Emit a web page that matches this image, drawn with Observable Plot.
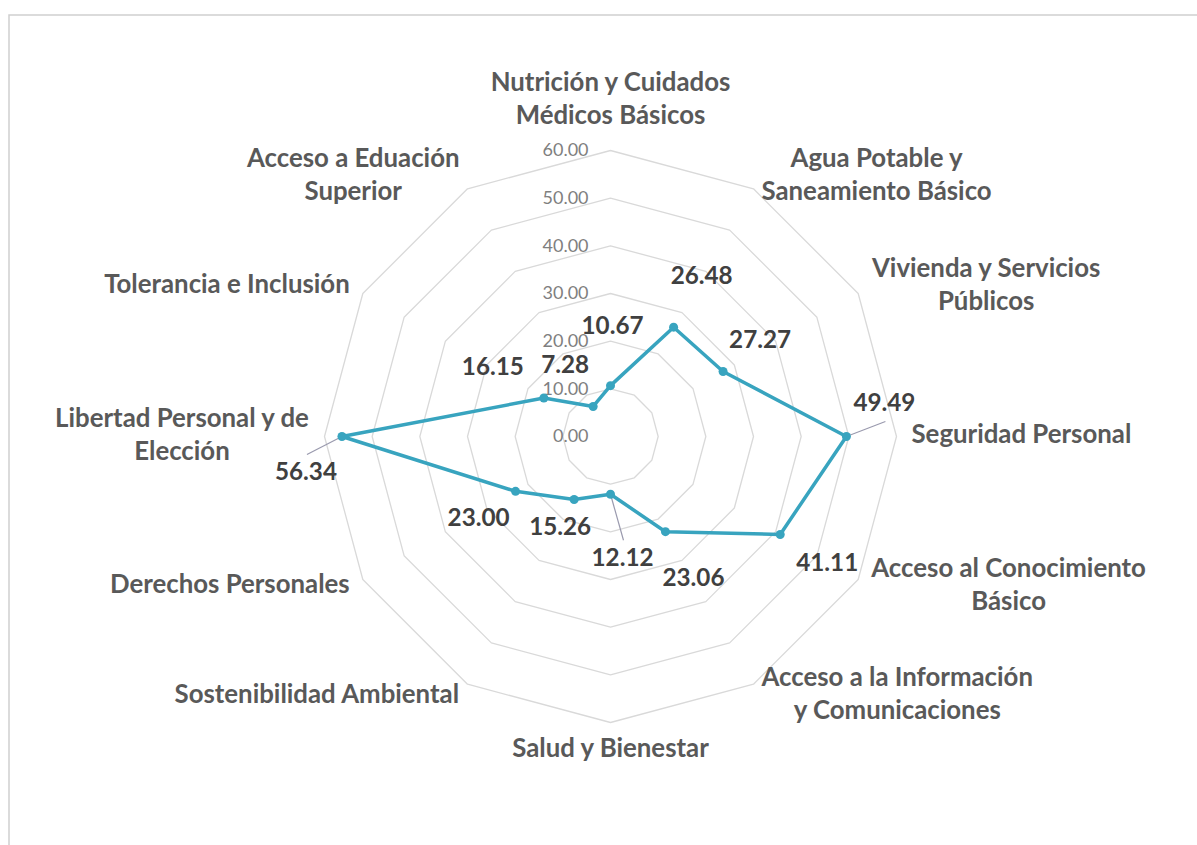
<!DOCTYPE html>
<html><head><meta charset="utf-8">
<script src="https://cdn.jsdelivr.net/npm/d3@7"></script>
<script src="https://cdn.jsdelivr.net/npm/@observablehq/plot@0.6"></script>
<style>
body{margin:0;background:#fff;}
#chart svg{display:block;background:#fff;}
</style>
</head><body><div id="chart"></div>
<script>
// ---- data ----
const categories = [
  "Nutrición y Cuidados\nMédicos Básicos",
  "Agua Potable y\nSaneamiento Básico",
  "Vivienda y Servicios\nPúblicos",
  "Seguridad Personal",
  "Acceso al Conocimiento\nBásico",
  "Acceso a la Información\ny Comunicaciones",
  "Salud y Bienestar",
  "Sostenibilidad Ambiental",
  "Derechos Personales",
  "Libertad Personal y de\nElección",
  "Tolerancia e Inclusión",
  "Acceso a Eduación\nSuperior"
];
const values = [10.67, 26.48, 27.27, 49.49, 41.11, 23.06, 12.12, 15.26, 23.00, 56.34, 16.15, 7.28];
const valueLabels = ["10.67","26.48","27.27","49.49","41.11","23.06","12.12","15.26","23.00","56.34","16.15","7.28"];
const ticks = [0, 10, 20, 30, 40, 50, 60];
const tickLabels = ["0.00","10.00","20.00","30.00","40.00","50.00","60.00"];

// ---- layout (pixels, not data) ----
const labelOffsets = [[2,-59],[28,-51],[37,-31],[38,-33],[47,29],[28,47],[12,64],[-14,28],[-37,27],[-36,36],[-51,-31],[-28,-41]];
const hasLeader = [false,false,false,true,false,false,true,false,false,true,false,false];
const catShift = {middle: 4, top: 3, bottom: 13}; // upward pixel nudge per anchor

const W = 1197, H = 845, cx = 610, cy = 436, k = 286 / 60;
const color = "#38a4bf";
const px = p => p / k;

// text measuring
const ctx = document.createElement("canvas").getContext("2d");
function tw(text, font) { ctx.font = font; return Math.max(...text.split("\n").map(s => ctx.measureText(s).width)); }
const FONT = "Lato, 'Open Sans', sans-serif";
const catSize = 24 * 220 / tw("Seguridad Personal", `bold 24px ${FONT}`);
const valSize = 24 * 62 / tw("49.49", `bold 24px ${FONT}`);
const tickSize = 20 * 46 / tw("60.00", `20px ${FONT}`);

const n = categories.length;
const data = categories.map((c, i) => {
  const a = i * 2 * Math.PI / n;
  const v = values[i];
  const x = v * Math.sin(a), y = v * Math.cos(a);
  const lx = x + px(labelOffsets[i][0]), ly = y - px(labelOffsets[i][1]);
  const sgn = Math.sign(y - ly);
  return {c, v, a, i, x, y, lx, ly, label: valueLabels[i], lead: hasLeader[i], ex: lx + px(1), ey: ly + sgn * px(18)};
});

const rings = ticks.filter(t => t > 0).flatMap(t => d3.range(n + 1).map(j => {
  const a = j * 2 * Math.PI / n;
  return {t, x: t * Math.sin(a), y: t * Math.cos(a)};
}));

const R = px(300);
const cats = data.map(d => {
  const ax = R * Math.sin(d.a), ay = R * Math.cos(d.a);
  const bw = tw(d.c, `bold ${catSize}px ${FONT}`);
  let x = ax, anchor = "middle";
  if (d.i !== 0 && d.i !== n / 2) x = ax + Math.sign(Math.sin(d.a)) * px(bw / 2 + 1);
  if (d.i === 0) anchor = "bottom"; else if (d.i === n / 2) anchor = "top";
  return {c: d.c, x, y: ay + px(catShift[anchor]), anchor};
});

const tickData = ticks.map((t, i) => ({t, label: tickLabels[i]}));
const lh = 33 / catSize;

const chart = Plot.plot({
  width: W, height: H, margin: 0,
  x: {domain: [-cx / k, (W - cx) / k], axis: null},
  y: {domain: [-(H - cy) / k, cy / k], axis: null},
  style: {fontFamily: FONT, background: "#fff"},
  marks: [
    Plot.frame({stroke: "#cfcfcf", strokeWidth: 1.5, insetLeft: 8.5, insetTop: 14.5, insetRight: -10, insetBottom: -10}),
    Plot.line(rings, {x: "x", y: "y", z: "t", stroke: "#d9d9d9", strokeWidth: 1.3}),
    Plot.text(tickData, {x: px(-22), y: "t", text: "label", textAnchor: "end", fill: "#7f7f7f", fontSize: tickSize, lineAnchor: "middle"}),
    Plot.link(data.filter(d => d.lead), {x1: "x", y1: "y", x2: "ex", y2: "ey", stroke: "#9a9aae", strokeWidth: 1.2}),
    Plot.line([...data, data[0]], {x: "x", y: "y", stroke: color, strokeWidth: 3.5, strokeLinejoin: "round"}),
    Plot.dot(data, {x: "x", y: "y", r: 4.5, fill: color, stroke: null}),
    Plot.text(data, {x: "lx", y: "ly", text: "label", fill: "#404040", fontWeight: "bold", fontSize: valSize, textAnchor: "middle", lineAnchor: "middle"}),
    ...["middle", "top", "bottom"].map(an => Plot.text(cats.filter(d => d.anchor === an), {
      x: "x", y: "y", text: "c", textAnchor: "middle", lineAnchor: an, lineHeight: lh,
      fill: "#595959", fontWeight: "bold", fontSize: catSize
    }))
  ]
});
document.getElementById("chart").appendChild(chart);
</script>
</body></html>
